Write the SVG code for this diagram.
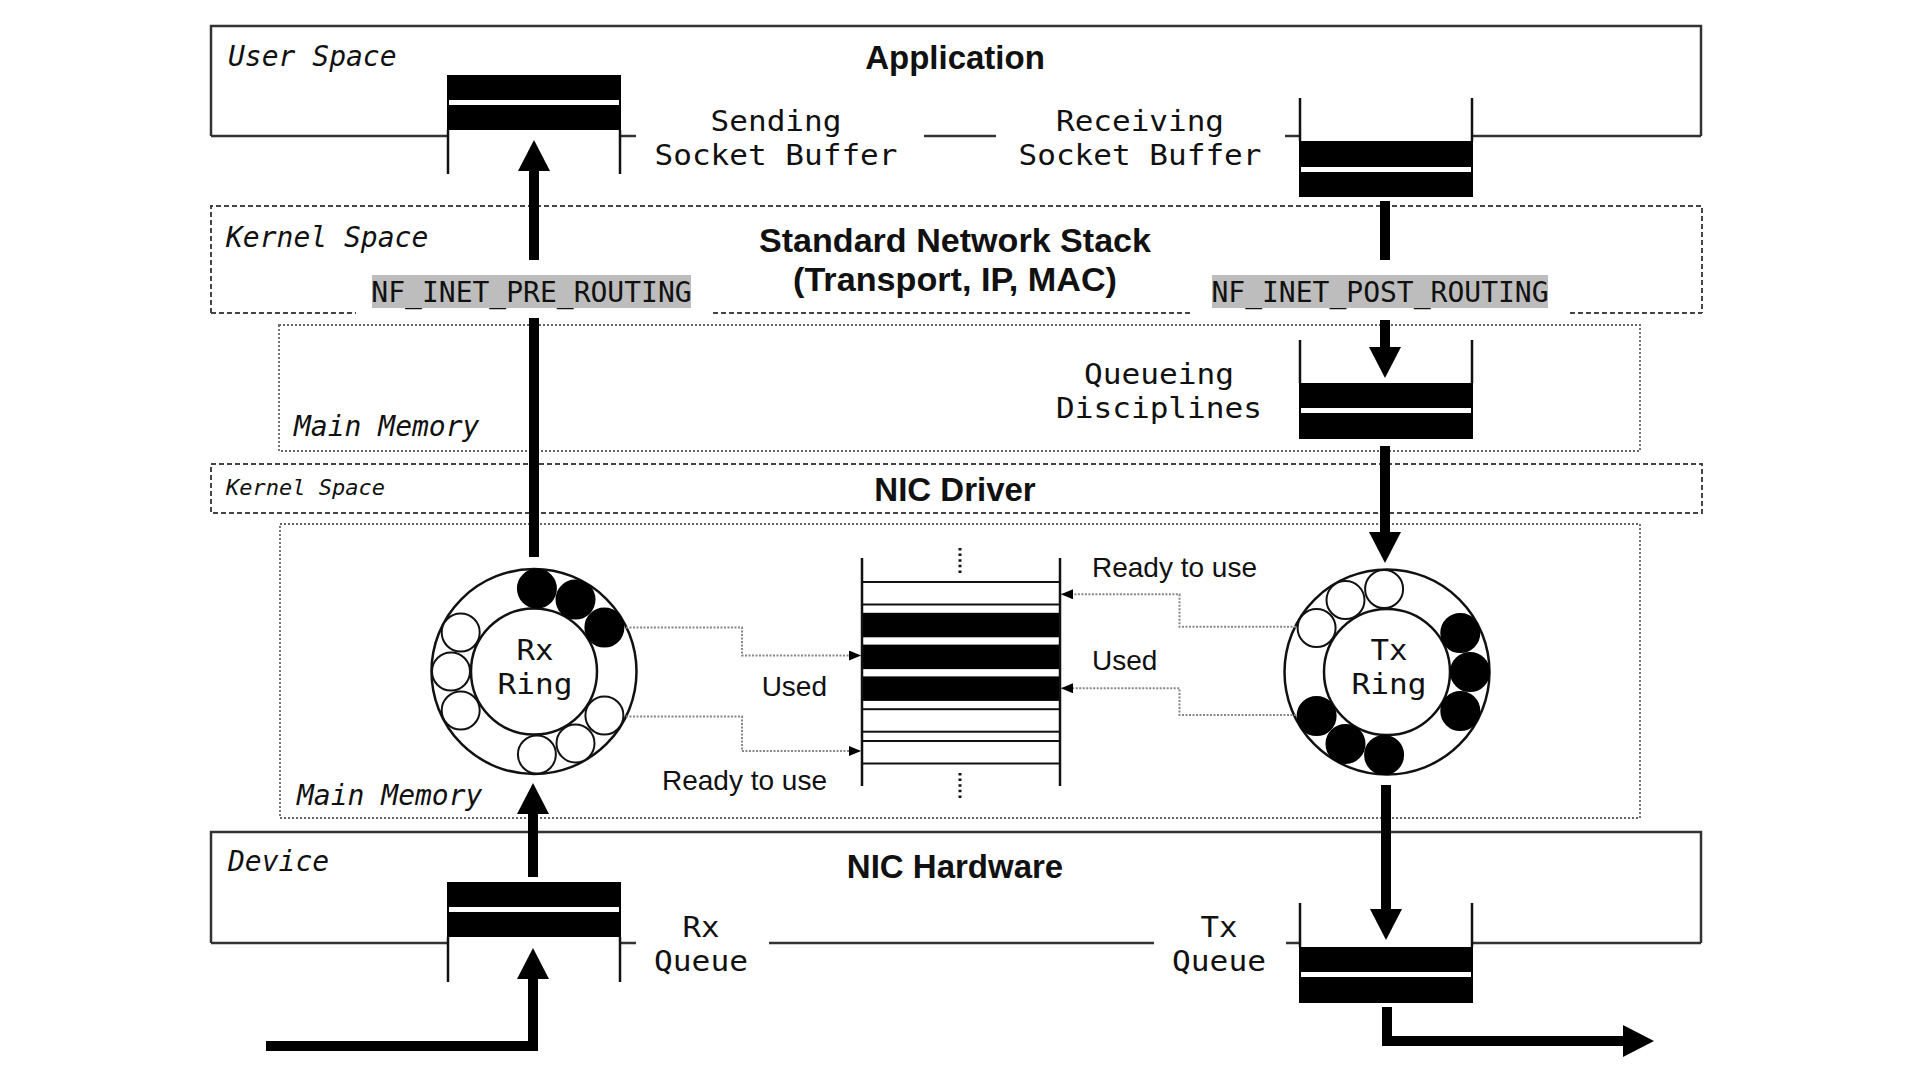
<svg xmlns="http://www.w3.org/2000/svg" width="1920" height="1080" viewBox="0 0 1920 1080">
<defs>
<style>
.bg{fill:#fff}
.solid{fill:none;stroke:#333;stroke-width:2.5}
.dash{fill:none;stroke:#444;stroke-width:2;stroke-dasharray:5 3}
.dot{fill:none;stroke:#666;stroke-width:1.8;stroke-dasharray:2 2}
.title{font-family:"Liberation Sans",Arial,sans-serif;font-weight:bold;font-size:33px;text-anchor:middle;fill:#111}
.mono{font-family:"DejaVu Sans Mono",monospace;font-size:29px;text-anchor:middle;fill:#111}
.ital{font-family:"DejaVu Sans Mono",monospace;font-style:italic;font-size:28px;fill:#111}
.ital-s{font-family:"DejaVu Sans Mono",monospace;font-style:italic;font-size:22px;fill:#111}
.nf{font-family:"DejaVu Sans Mono",monospace;font-size:28px;text-anchor:middle;fill:#111}
.sans{font-family:"Liberation Sans",Arial,sans-serif;font-size:28px;fill:#111}
.nfbg{fill:#bdbdbd}
.blk{fill:#000}
.stripe{fill:#fff}
.wall{stroke:#111;stroke-width:2.5;fill:none}
.ring{fill:#fff;stroke:#111;stroke-width:2.5}
.slot{fill:#fff;stroke:#111;stroke-width:2}
.slot-used{fill:#000;stroke:#000;stroke-width:2}
.row{fill:#fff;stroke:#111;stroke-width:2}
.row-used{fill:#000;stroke:#000;stroke-width:2}
.shaft{fill:none;stroke:#000;stroke-width:10}
.link{fill:none;stroke:#888;stroke-width:2;stroke-dasharray:2 1.5}
.vdots{stroke:#111;stroke-width:3;stroke-dasharray:2.5 3.1}
</style>
<marker id="big" markerUnits="userSpaceOnUse" markerWidth="31" markerHeight="32" refX="0" refY="16" orient="auto" viewBox="0 0 31 32">
<path d="M0,0 L31,16 L0,32 Z" fill="#000"/>
</marker>
<marker id="small" markerUnits="userSpaceOnUse" markerWidth="12" markerHeight="10" refX="12" refY="5" orient="auto" viewBox="0 0 12 10">
<path d="M0,0 L12,5 L0,10 Z" fill="#000"/>
</marker>
</defs>
<rect class="bg" x="0" y="0" width="1920" height="1080"/>

<g id="user-space">
<path class="solid" d="M211,136 V26 H1701 V136"/>
<path class="solid" d="M211,136 H447 M621,136 H636 M924,136 H996 M1285,136 H1299 M1473,136 H1701"/>
<text class="ital" x="228" y="66">User Space</text>
<text class="title" x="955" y="69">Application</text>
</g>

<g id="kernel-space-stack">
<path class="dash" d="M211,313 V206 H1702 V313"/>
<path class="dash" d="M211,313 H356 M713,313 H1193 M1570,313 H1702"/>
<text class="ital" x="226" y="247">Kernel Space</text>
<text class="title" x="955" y="252" textLength="392" lengthAdjust="spacingAndGlyphs">Standard Network Stack</text>
<text class="title" x="955" y="291" textLength="324" lengthAdjust="spacingAndGlyphs">(Transport, IP, MAC)</text>
</g>

<g id="main-memory-1">
<rect class="dot" x="279" y="325" width="1361" height="126"/>
<text class="ital" x="294" y="436">Main Memory</text>
</g>

<g id="kernel-space-driver">
<rect class="dash" x="211" y="464" width="1491" height="49"/>
<text class="ital-s" x="226" y="495">Kernel Space</text>
<text class="title" x="955" y="501">NIC Driver</text>
</g>

<g id="main-memory-2">
<rect class="dot" x="280" y="524" width="1360" height="294"/>
<text class="ital" x="297" y="805">Main Memory</text>
</g>

<g id="device">
<path class="solid" d="M211,943 V832 H1701 V943"/>
<path class="solid" d="M211,943 H447 M621,943 H636 M769,943 H1154 M1286,943 H1299 M1473,943 H1701"/>
<text class="ital" x="228" y="871">Device</text>
<text class="title" x="955" y="878">NIC Hardware</text>
</g>

<g id="sending-buffer">
<rect class="blk" x="447" y="75" width="174" height="55"/>
<rect class="stripe" x="449" y="100" width="170" height="5"/>
<path class="wall" d="M448,130 V174 M620,130 V174"/>
<text class="mono" x="776" y="131" textLength="131" lengthAdjust="spacingAndGlyphs">Sending</text>
<text class="mono" x="776" y="165" textLength="243" lengthAdjust="spacingAndGlyphs">Socket Buffer</text>
</g>

<g id="receiving-buffer">
<path class="wall" d="M1300,98 V141 M1472,98 V141"/>
<rect class="blk" x="1299" y="141" width="174" height="56"/>
<rect class="stripe" x="1301" y="167" width="170" height="5"/>
<text class="mono" x="1140" y="131" textLength="168" lengthAdjust="spacingAndGlyphs">Receiving</text>
<text class="mono" x="1140" y="165" textLength="243" lengthAdjust="spacingAndGlyphs">Socket Buffer</text>
</g>

<g id="pre-routing">
<rect class="nfbg" x="372" y="275" width="319" height="33"/>
<text class="nf" x="531.5" y="302">NF_INET_PRE_ROUTING</text>
</g>

<g id="post-routing">
<rect class="nfbg" x="1212" y="275" width="336" height="33"/>
<text class="nf" x="1380" y="302">NF_INET_POST_ROUTING</text>
</g>

<g id="qdisc">
<path class="wall" d="M1300,340 V383 M1472,340 V383"/>
<rect class="blk" x="1299" y="383" width="174" height="56"/>
<rect class="stripe" x="1301" y="408" width="170" height="5"/>
<text class="mono" x="1159" y="384" textLength="150" lengthAdjust="spacingAndGlyphs">Queueing</text>
<text class="mono" x="1159" y="418" textLength="206" lengthAdjust="spacingAndGlyphs">Disciplines</text>
</g>

<g id="rx-ring">
<circle class="ring" cx="534" cy="671.5" r="102.5"/>
<circle class="ring" cx="534" cy="671.5" r="63"/>
<circle class="slot-used" cx="536.9" cy="588.6" r="19"/>
<circle class="slot-used" cx="575.5" cy="599.6" r="19"/>
<circle class="slot-used" cx="604.4" cy="627.5" r="19"/>
<circle class="slot" cx="604.4" cy="715.5" r="19"/>
<circle class="slot" cx="575.5" cy="743.4" r="19"/>
<circle class="slot" cx="536.9" cy="754.5" r="19"/>
<circle class="slot" cx="460.7" cy="710.5" r="19"/>
<circle class="slot" cx="451" cy="671.5" r="19"/>
<circle class="slot" cx="460.7" cy="632.5" r="19"/>
<text class="mono" x="535" y="660" textLength="37" lengthAdjust="spacingAndGlyphs">Rx</text>
<text class="mono" x="535" y="694" textLength="75" lengthAdjust="spacingAndGlyphs">Ring</text>
</g>

<g id="tx-ring">
<circle class="ring" cx="1387" cy="672" r="102.5"/>
<circle class="ring" cx="1387" cy="672" r="63"/>
<circle class="slot" cx="1384.1" cy="589" r="19"/>
<circle class="slot" cx="1345.5" cy="600.1" r="19"/>
<circle class="slot" cx="1316.6" cy="628" r="19"/>
<circle class="slot-used" cx="1460.3" cy="633" r="19"/>
<circle class="slot-used" cx="1470" cy="672" r="19"/>
<circle class="slot-used" cx="1460.3" cy="711" r="19"/>
<circle class="slot-used" cx="1384.1" cy="755" r="19"/>
<circle class="slot-used" cx="1345.5" cy="743.9" r="19"/>
<circle class="slot-used" cx="1316.6" cy="716" r="19"/>
<text class="mono" x="1389" y="660" textLength="37" lengthAdjust="spacingAndGlyphs">Tx</text>
<text class="mono" x="1389" y="694" textLength="75" lengthAdjust="spacingAndGlyphs">Ring</text>
</g>

<g id="desc-table">
<rect class="row" x="862" y="582" width="198" height="22.5"/>
<rect class="row-used" x="862" y="613.8" width="198" height="22.5"/>
<rect class="row-used" x="862" y="645.6" width="198" height="22.5"/>
<rect class="row-used" x="862" y="677.4" width="198" height="22.5"/>
<rect class="row" x="862" y="709.2" width="198" height="22.5"/>
<rect class="row" x="862" y="741" width="198" height="22.5"/>
<path class="wall" d="M862,558 V786 M1060,558 V786"/>
<line class="vdots" x1="960" y1="548" x2="960" y2="574"/>
<line class="vdots" x1="960" y1="773" x2="960" y2="799"/>
<text class="sans" x="827" y="696" text-anchor="end">Used</text>
<text class="sans" x="827" y="790" text-anchor="end">Ready to use</text>
<text class="sans" x="1092" y="577">Ready to use</text>
<text class="sans" x="1092" y="670">Used</text>
</g>

<g id="rx-queue">
<rect class="blk" x="447" y="882" width="174" height="55"/>
<rect class="stripe" x="449" y="907" width="170" height="5"/>
<path class="wall" d="M448,937 V982 M620,937 V982"/>
<text class="mono" x="701" y="937" textLength="37" lengthAdjust="spacingAndGlyphs">Rx</text>
<text class="mono" x="701" y="971" textLength="94" lengthAdjust="spacingAndGlyphs">Queue</text>
</g>

<g id="tx-queue">
<path class="wall" d="M1300,903 V947 M1472,903 V947"/>
<rect class="blk" x="1299" y="947" width="174" height="56"/>
<rect class="stripe" x="1301" y="972" width="170" height="5"/>
<text class="mono" x="1219" y="937" textLength="37" lengthAdjust="spacingAndGlyphs">Tx</text>
<text class="mono" x="1219" y="971" textLength="94" lengthAdjust="spacingAndGlyphs">Queue</text>
</g>

<g id="connectors">
<line class="shaft" x1="534" y1="557" x2="534" y2="318"/>
<line class="shaft" x1="534" y1="260" x2="534" y2="171" marker-end="url(#big)"/>
<line class="shaft" x1="533" y1="877" x2="533" y2="814" marker-end="url(#big)"/>
<polyline class="shaft" points="266,1046 533,1046 533,979" marker-end="url(#big)"/>
<line class="shaft" x1="1385" y1="201" x2="1385" y2="260"/>
<line class="shaft" x1="1385" y1="320" x2="1385" y2="347" marker-end="url(#big)"/>
<line class="shaft" x1="1385" y1="446" x2="1385" y2="532" marker-end="url(#big)"/>
<line class="shaft" x1="1386" y1="785" x2="1386" y2="909" marker-end="url(#big)"/>
<polyline class="shaft" points="1387,1007 1387,1041 1623,1041" marker-end="url(#big)"/>
<path class="link" d="M626,627.5 H742 V655.5 H861" marker-end="url(#small)"/>
<path class="link" d="M626,716.5 H742 V751 H861" marker-end="url(#small)"/>
<path class="link" d="M1296,626.7 H1179.5 V594.3 H1061" marker-end="url(#small)"/>
<path class="link" d="M1296,715 H1179.5 V688.3 H1061" marker-end="url(#small)"/>
</g>
</svg>
